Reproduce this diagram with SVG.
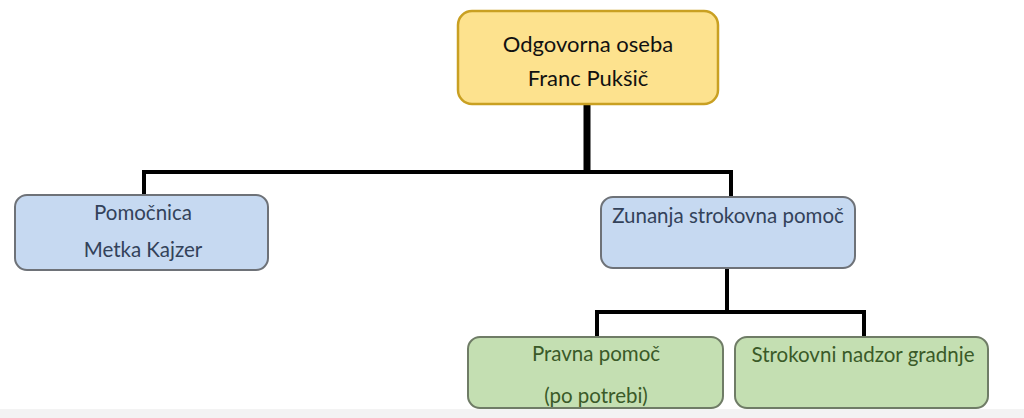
<svg xmlns="http://www.w3.org/2000/svg" width="1024" height="418" viewBox="0 0 1024 418">
<style>
.t{font-family:Lato,"Open Sans","Liberation Sans",sans-serif;text-anchor:middle}
.blue{fill:#c6d9f1;stroke:#6e7278;stroke-width:2}
.green{fill:#c4dfb2;stroke:#6f7c66;stroke-width:2}
.bt{fill:#33425a;font-size:20.5px}
.gt{fill:#3a5a28;font-size:20.5px}
.ln{stroke:#000;fill:none}
</style>
<rect width="1024" height="418" fill="#fff"/>
<rect x="0" y="409" width="1024" height="9" fill="#f3f3f3"/>
<g id="connectors">
<path class="ln" stroke-width="7" d="M587 104V174"/>
<path class="ln" stroke-width="4" d="M144 196V172H731V199"/>
<path class="ln" stroke-width="4" d="M727 268V312"/>
<path class="ln" stroke-width="4" d="M597 338V312H864V338"/>
</g>
<g id="top">
<rect x="458" y="11" width="260" height="93" rx="14" fill="#fde28e" stroke="#c9a022" stroke-width="2.5"/>
<text class="t" x="588" y="52" font-size="22" fill="#111">Odgovorna oseba</text>
<text class="t" x="588" y="86" font-size="22" fill="#111">Franc Pukšič</text>
</g>
<g id="pomocnica">
<rect class="blue" x="15" y="195" width="253" height="75" rx="12"/>
<text class="t bt" x="143" y="220">Pomočnica</text>
<text class="t bt" x="143" y="257">Metka Kajzer</text>
</g>
<g id="zunanja">
<rect class="blue" x="601" y="197" width="254" height="71" rx="12"/>
<text class="t bt" x="728" y="223">Zunanja strokovna pomoč</text>
</g>
<g id="pravna">
<rect class="green" x="468" y="337" width="255" height="71" rx="12"/>
<text class="t gt" x="596" y="361">Pravna pomoč</text>
<text class="t gt" x="596" y="403">(po potrebi)</text>
</g>
<g id="strokovni">
<rect class="green" x="735" y="337" width="253" height="71" rx="12"/>
<text class="t gt" x="863" y="362">Strokovni nadzor gradnje</text>
</g>
</svg>
